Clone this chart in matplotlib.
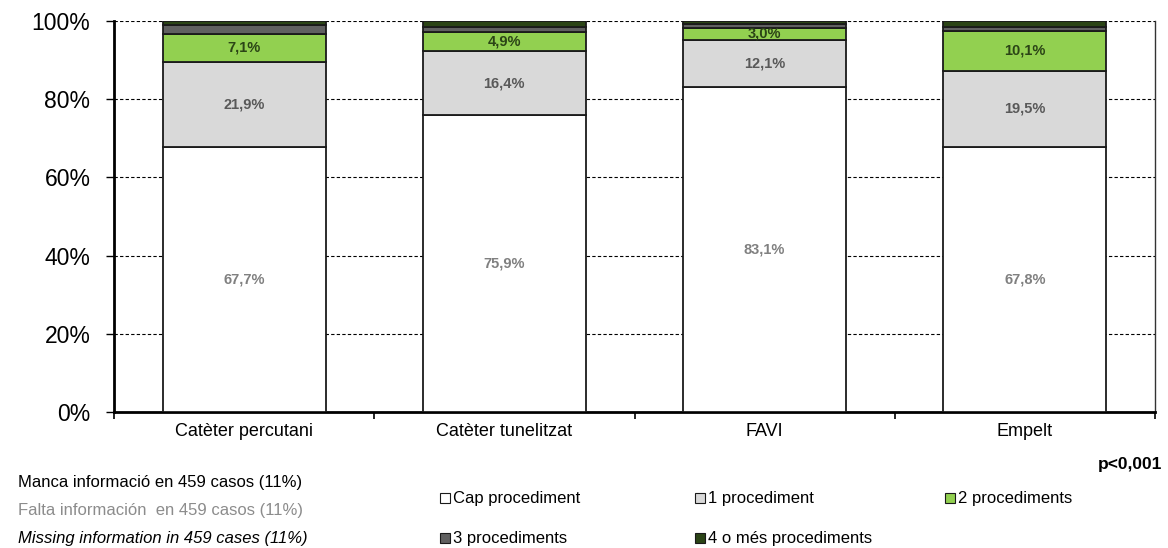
import matplotlib
matplotlib.use('Agg')
import matplotlib.pyplot as plt
from matplotlib.patches import Rectangle
import numpy as np

plt.rcParams['font.family'] = ['Liberation Sans', 'DejaVu Sans']

categories = ['Catèter percutani', 'Catèter tunelitzat', 'FAVI', 'Empelt']
series_names = ['Cap procediment', '1 procediment', '2 procediments',
                '3 procediments', '4 o més procediments']
cap = [67.7, 75.9, 83.1, 67.8]
one = [21.9, 16.4, 12.1, 19.5]
two = [7.1, 4.9, 3.0, 10.1]
three = [2.4, 1.2, 1.0, 1.1]
four = [0.9, 1.6, 0.8, 1.5]
series = [cap, one, two, three, four]

colors = ['#FFFFFF', '#D9D9D9', '#92D050', '#606060', '#2B4416']
label_colors = ['#808080', '#595959', '#2B4416', None, None]

W, H = 1168, 548
fig = plt.figure(figsize=(W / 100, H / 100), dpi=100)
ax = fig.add_axes([114 / W, 1 - 412 / H, (1155 - 114) / W, (412 - 21) / H])

x = np.arange(len(categories))
bottom = np.zeros(len(categories))
for vals, col, lc in zip(series, colors, label_colors):
    vals = np.array(vals)
    ax.bar(x, vals, 0.627, bottom=bottom, color=col, edgecolor='#1a1a1a',
           linewidth=1.3, zorder=3)
    if lc is not None:
        for xi, b, v in zip(x, bottom, vals):
            ax.text(xi, b + v / 2, f'{v:.1f}%'.replace('.', ','), ha='center',
                    va='center', fontsize=10.5, fontweight='bold', color=lc,
                    zorder=4)
    bottom += vals

ax.set_xlim(-0.5, len(categories) - 0.5)
ax.set_ylim(0, 100)
ax.set_yticks(range(0, 101, 20))
ax.set_yticklabels([f'{v}%' for v in range(0, 101, 20)], fontsize=16.5)
ax.yaxis.grid(True, linestyle=(0, (3, 2)), color='black', linewidth=0.8, zorder=0)
ax.set_axisbelow(True)

ax.set_xticks(x)
ax.set_xticklabels(categories, fontsize=13)
ax.tick_params(axis='x', length=0, pad=8)
ax.set_xticks(np.arange(-0.5, len(categories), 1), minor=True)
ax.tick_params(axis='x', which='minor', length=5, width=1.2, direction='out')
ax.tick_params(axis='y', length=6, width=1, direction='out', pad=11)

ax.spines['top'].set_visible(False)
ax.spines['left'].set_linewidth(2)
ax.spines['bottom'].set_linewidth(2)
ax.spines['right'].set_linewidth(1)
ax.spines['right'].set_color('#333333')

# notes
fig.text(18 / W, 1 - 482 / H, 'Manca informació en 459 casos (11%)',
         fontsize=12, va='center', color='black')
fig.text(18 / W, 1 - 510 / H, 'Falta información  en 459 casos (11%)',
         fontsize=12, va='center', color='#8c8c8c')
fig.text(18 / W, 1 - 538 / H, 'Missing information in 459 cases (11%)',
         fontsize=12, va='center', color='black', style='italic')
fig.text(1162 / W, 1 - 465 / H, 'p<0,001', fontsize=12.5, fontweight='bold',
         ha='right', va='center')

# legend
pos = [(440, 498), (695, 498), (945, 498), (440, 538), (695, 538)]
for (px, py), name, col in zip(pos, series_names, colors):
    fig.patches.append(Rectangle((px / W, (H - py - 5) / H), 10 / W, 10 / H,
                                 transform=fig.transFigure, facecolor=col,
                                 edgecolor='#1a1a1a', linewidth=0.8))
    fig.text((px + 13) / W, 1 - py / H, name, fontsize=12, va='center')

fig.savefig('out.png', dpi=100)
